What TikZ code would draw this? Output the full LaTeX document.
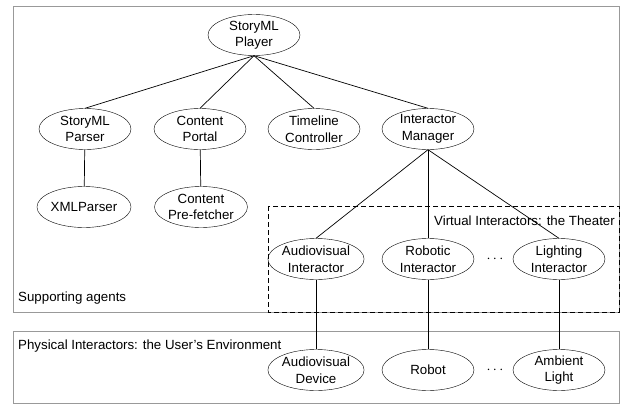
\documentclass[tikz,border=0pt]{standalone}
\usepackage{fontspec}
\setmainfont{Liberation Sans}
\usetikzlibrary{shapes.geometric}

\tikzset{
  agent/.style={ellipse, draw, minimum width=92pt, minimum height=41pt, inner sep=0pt,
    align=center, font=\fontsize{13.3}{16.5}\selectfont},
  areabox/.style={draw=black!40, line width=0.9pt},
  boxtext/.style={inner sep=2pt, font=\fontsize{13.3}{16.5}\selectfont},
  link/.style={line width=0.7pt}
}

\begin{document}
\begin{tikzpicture}[x=1pt,y=-1pt]
\useasboundingbox (0,0) rectangle (622,405);

%areas
\draw[areabox] (13,6) rectangle (619,312);
\draw[areabox] (13,331) rectangle (619,403);
\draw[line width=0.7pt, dash pattern=on 5pt off 3pt] (268,206) rectangle (619,312);

\node[boxtext, anchor=west] (supp) at (16,298) {Supporting agents};
\node[boxtext, anchor=west] (phys) at (16,346) {Physical Interactors: the User’s Environment};
\node[boxtext, anchor=east] (virt) at (617,221) {Virtual Interactors: the Theater};

%player and its agents
\node[agent] (player) at (254,35) {StoryML\\Player};
\node[agent] (parser) at (85,129) {StoryML\\Parser};
\node[agent] (portal) at (200,129) {Content\\Portal};
\node[agent] (timeline) at (314,129) {Timeline\\Controller};
\node[agent] (manager) at (428,129) {Interactor\\Manager};
\node[agent] (xml) at (84,207) {XMLParser};
\node[agent] (prefetch) at (201,207) {Content\\Pre-fetcher};

%virtual interactors
\node[agent] (avint) at (316,259) {Audiovisual\\Interactor};
\node[agent] (robint) at (428,259) {Robotic\\Interactor};
\node[boxtext] (vdots) at (495,259) {$\cdots$};
\node[agent] (lightint) at (559,259) {Lighting\\Interactor};

%physical interactors
\node[agent] (avdev) at (316,370) {Audiovisual\\Device};
\node[agent] (robot) at (428,370) {Robot};
\node[boxtext] (pdots) at (495,370) {$\cdots$};
\node[agent] (light) at (559,370) {Ambient\\Light};

\draw[link] (player.south) -- (parser.north);
\draw[link] (player.south) -- (portal.north);
\draw[link] (player.south) -- (timeline.north);
\draw[link] (player.south) -- (manager.north);
\draw[link] (parser) -- (xml);
\draw[link] (portal) -- (prefetch);

\draw[link] (manager.south) -- (avint.north);
\draw[link] (manager.south) -- (robint.north);
\draw[link] (manager.south) -- (lightint.north);

\draw[link] (avint) -- (avdev);
\draw[link] (robint) -- (robot);
\draw[link] (lightint) -- (light);
\end{tikzpicture}
\end{document}
